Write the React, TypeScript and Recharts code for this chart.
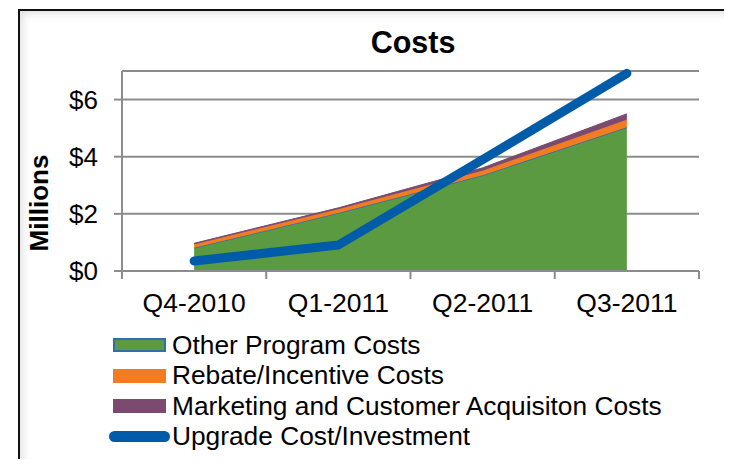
import React from "react";
import {
  ComposedChart,
  Area,
  Line,
  XAxis,
  YAxis,
  CartesianGrid,
} from "recharts";

const quarters = ["Q4-2010", "Q1-2011", "Q2-2011", "Q3-2011"];
const otherProgram = [0.81, 2.03, 3.35, 5.03];
const rebateIncentive = [0.12, 0.13, 0.16, 0.26];
const marketing = [0.04, 0.05, 0.1, 0.21];
const upgradeCost = [0.35, 0.91, 3.9, 6.92];
const yTicks = [0, 2, 4, 6];

const SERIES = [
  { key: "other", name: "Other Program Costs", fill: "#5c9a42", border: "#2f6fb0" },
  { key: "rebate", name: "Rebate/Incentive Costs", fill: "#f47c20", border: "#f47c20" },
  { key: "marketing", name: "Marketing and Customer Acquisiton Costs", fill: "#7b4a6e", border: "#7b4a6e" },
];
const LINE = { key: "upgrade", name: "Upgrade Cost/Investment", color: "#005ca9" };

const data = quarters.map((q, i) => ({
  quarter: q,
  other: otherProgram[i],
  rebate: rebateIncentive[i],
  marketing: marketing[i],
  upgrade: upgradeCost[i],
}));

const FONT = "'Liberation Sans', Arial, sans-serif";
const GRID = "#8c8c8c";
const TICK_SIZE = 8;
const TICK_MARGIN = 14;

function QuarterTick(props: any) {
  const { x, y, payload, index, visibleTicksCount } = props;
  const half = payload?.offset ?? 72;
  const base = y - TICK_SIZE - TICK_MARGIN;
  return (
    <g>
      <line x1={x - half} x2={x - half} y1={base} y2={base + TICK_SIZE} stroke={GRID} strokeWidth={2} />
      {index === visibleTicksCount - 1 && (
        <line x1={x + half} x2={x + half} y1={base} y2={base + TICK_SIZE} stroke={GRID} strokeWidth={2} />
      )}
      <text x={x} y={y} dy="0.71em" textAnchor="middle" fontSize={26.5} fill="#000" fontFamily={FONT}>
        {payload.value}
      </text>
    </g>
  );
}

export default function App() {
  return (
    <div
      style={{
        position: "relative",
        width: 732,
        height: 467,
        margin: -8,
        overflow: "hidden",
        background: "#fff",
        fontFamily: FONT,
      }}
    >
      <div
        style={{
          position: "absolute",
          left: 18,
          top: 9,
          width: 800,
          height: 520,
          borderTop: "2px solid #111",
          borderLeft: "2px solid #111",
          boxShadow: "inset 6px 6px 10px -4px rgba(0,0,0,0.14)",
        }}
      />
      <div
        style={{
          position: "absolute",
          left: 413,
          top: 42,
          transform: "translate(-50%, -50%)",
          fontSize: 30.5,
          fontWeight: "bold",
          color: "#000",
          lineHeight: 1,
        }}
      >
        Costs
      </div>
      <div
        style={{
          position: "absolute",
          left: 39,
          top: 203,
          transform: "translate(-50%, -50%) rotate(-90deg)",
          fontSize: 26,
          fontWeight: "bold",
          color: "#000",
          lineHeight: 1,
          whiteSpace: "nowrap",
        }}
      >
        Millions
      </div>
      <div style={{ position: "absolute", left: 0, top: 0 }}>
        <ComposedChart
          width={732}
          height={467}
          data={data}
          margin={{ top: 71, right: 33, left: 0, bottom: 156 }}
        >
          <CartesianGrid vertical={false} stroke={GRID} strokeWidth={2} />
          <XAxis
            dataKey="quarter"
            scale="band"
            height={40}
            axisLine={{ stroke: GRID, strokeWidth: 2 }}
            tickLine={false}
            tickSize={TICK_SIZE}
            tickMargin={TICK_MARGIN}
            interval={0}
            tick={<QuarterTick />}
          />
          <YAxis
            width={122}
            domain={[0, 7]}
            ticks={yTicks}
            tickFormatter={(v: number) => `$${v}`}
            axisLine={{ stroke: GRID, strokeWidth: 2 }}
            tickLine={{ stroke: GRID, strokeWidth: 2 }}
            tickSize={8}
            tickMargin={16}
            tick={{ fontSize: 26, fill: "#000", fontFamily: FONT }}
          />
          {SERIES.map((s) => (
            <Area
              key={s.key}
              type="linear"
              dataKey={s.key}
              name={s.name}
              stackId="costs"
              fill={s.fill}
              fillOpacity={1}
              stroke={s.border}
              strokeWidth={s.key === "other" ? 1.5 : 1}
              isAnimationActive={false}
            />
          ))}
          <Line
            type="linear"
            dataKey={LINE.key}
            name={LINE.name}
            stroke={LINE.color}
            strokeWidth={9}
            strokeLinecap="round"
            strokeLinejoin="round"
            dot={false}
            activeDot={false}
            isAnimationActive={false}
          />
        </ComposedChart>
      </div>
      <div style={{ position: "absolute", left: 109, top: 330 }}>
        {SERIES.map((s) => (
          <div key={s.key} style={{ display: "flex", alignItems: "center", height: 30.5 }}>
            <div style={{ width: 4 }} />
            <div
              style={{
                width: 53,
                height: 14,
                background: s.fill,
                boxSizing: "border-box",
                border: s.key === "other" ? `2px solid ${s.border}` : "none",
              }}
            />
            <span style={{ marginLeft: 6, fontSize: 26.3, color: "#000", whiteSpace: "nowrap" }}>{s.name}</span>
          </div>
        ))}
        <div style={{ display: "flex", alignItems: "center", height: 30.5 }}>
          <div style={{ width: 61, height: 11, borderRadius: 6, background: LINE.color }} />
          <span style={{ marginLeft: 2, fontSize: 26.3, color: "#000", whiteSpace: "nowrap" }}>{LINE.name}</span>
        </div>
      </div>
    </div>
  );
}
